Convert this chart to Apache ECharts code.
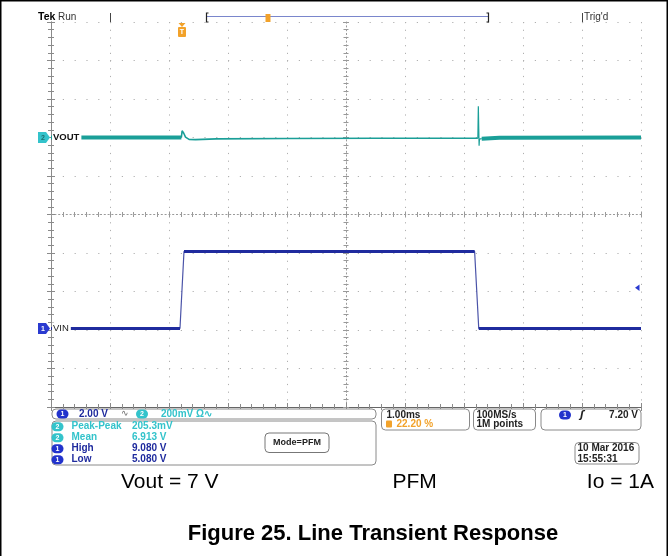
<!DOCTYPE html>
<html><head><meta charset="utf-8">
<script src="https://cdn.jsdelivr.net/npm/echarts@6/dist/echarts.min.js"></script>
<style>html,body{margin:0;padding:0;background:#fff}#c{width:668px;height:556px}</style>
</head><body><div id="c"></div><script>
// ---- data (time in ms, 1 ms/div, 10 div) ----
const vinTime  = [0, 2.186, 2.254, 7.18, 7.25, 10];
const vinVolts = [5.08, 5.08, 9.08, 9.08, 5.08, 5.08];
const voutPreTime = [0, 2.21];
const voutPre     = [6.913, 6.913];
const voutMidTime = [2.21, 2.222, 2.235, 2.25, 2.28, 2.34, 2.45, 2.8, 4.0, 5.5, 7.0, 7.235];
const voutMid     = [6.913, 6.948, 6.956, 6.935, 6.915, 6.903, 6.902, 6.906, 6.908, 6.909, 6.909, 6.909];
const voutSpikeTime = [7.235, 7.243, 7.25, 7.256, 7.262, 7.27, 7.3];
const voutSpike     = [6.909, 7.075, 6.960, 6.870, 6.905, 6.899, 6.907];
const voutPostTime = [7.3, 7.6, 10];
const voutPost     = [6.907, 6.912, 6.913];
const measLabels = ['Peak-Peak', 'Mean', 'High', 'Low'];
const measValues = ['205.3mV', '6.913 V', '9.080 V', '5.080 V'];
const measChan   = ['2', '2', '1', '1'];

const zip = (t, v) => t.map((x, i) => [x, v[i]]);
// flat parts of VIN drawn thick, edges thin
const vinFlat = [];
for (let i = 0; i < vinTime.length; i += 2) {
  vinFlat.push([vinTime[i], vinVolts[i]], [vinTime[i + 1], vinVolts[i + 1]]);
  if (i + 2 < vinTime.length) vinFlat.push([(vinTime[i + 1] + vinTime[i + 2]) / 2, '-']);
}

const BLUE = '#1f2b9e', TEAL = '#1a9f98', CYAN = '#33c3cb', ORANGE = '#f2a22a', GRIDC = '#b0b0b0', EDGE = '#8a8a8a';
const F = '"Liberation Sans", Arial, sans-serif';

const divAxisX = (extra) => Object.assign({
  type: 'value', min: 0, max: 10, interval: 1,
  axisLabel: { show: false },
  axisLine: { show: true, lineStyle: { color: EDGE, width: 1 } },
  axisTick: { show: true, inside: true, length: 4, lineStyle: { color: EDGE } },
  minorTick: { show: true, splitNumber: 5, length: 3, lineStyle: { color: EDGE } },
  splitLine: { show: false }
}, extra);
const divAxisY = (extra) => Object.assign({
  type: 'value', min: 0, max: 10, interval: 1,
  axisLabel: { show: false },
  axisLine: { show: true, lineStyle: { color: EDGE, width: 1 } },
  axisTick: { show: true, inside: true, length: 4, lineStyle: { color: EDGE } },
  minorTick: { show: true, splitNumber: 5, length: 3, lineStyle: { color: EDGE } },
  splitLine: { show: false }
}, extra);

const centerLine = { show: true, lineStyle: { color: '#9a9a9a', width: 1, type: [1.2, 2.6] } };

// ---- graphic helpers ----
const G = [];
const txt = (x, y, text, fill, font, align, extra) => G.push(Object.assign({
  type: 'text', x, y, z: 100,
  style: { text, fill, font, align: align || 'left', verticalAlign: 'middle' }
}, extra || {}));
const rrect = (x, y, w, h, stroke, fill, r) => G.push({
  type: 'rect', z: 99, shape: { x, y, width: w, height: h, r: r == null ? 4 : r },
  style: { stroke, fill: fill || '#fff', lineWidth: 1 }
});
const pill = (cx, cy, color, label) => {
  G.push({ type: 'rect', z: 100, shape: { x: cx - 6, y: cy - 4.5, width: 12, height: 9, r: 4.5 }, style: { fill: color } });
  txt(cx, cy + 0.5, label, '#fff', 'bold 7px ' + F, 'center');
};
const line = (pts, stroke, w) => G.push({ type: 'polyline', z: 100, shape: { points: pts }, style: { stroke, lineWidth: w || 1, fill: null } });
const poly = (pts, fill) => G.push({ type: 'polygon', z: 100, shape: { points: pts }, style: { fill } });

// outer frame
G.push({ type: 'rect', z: 90, shape: { x: 0.75, y: 0.75, width: 666.5, height: 600 }, style: { stroke: '#000', lineWidth: 1.5, fill: null } });

// top bar
txt(38, 17, 'Tek', '#000', 'bold 10.5px ' + F);
txt(58, 17, 'Run', '#333', '10px ' + F);
line([[110.5, 13], [110.5, 22]], '#444', 1);
line([[582.5, 13], [582.5, 22]], '#444', 1);
txt(584, 17, "Trig'd", '#333', '10px ' + F);
line([[206, 16.5], [489, 16.5]], '#7a86cc', 1.2);
line([[208.5, 13], [206.5, 13], [206.5, 22], [208.5, 22]], '#222', 1.2);
line([[486.5, 13], [488.5, 13], [488.5, 22], [486.5, 22]], '#222', 1.2);
G.push({ type: 'rect', z: 101, shape: { x: 265.5, y: 14, width: 5, height: 8 }, style: { fill: ORANGE } });
// trigger position marker
poly([[178.5, 23], [185.5, 23], [182, 27]], ORANGE);
G.push({ type: 'rect', z: 100, shape: { x: 178, y: 27, width: 8, height: 10, r: 1 }, style: { fill: ORANGE } });
txt(182, 32.5, 'T', '#fff', 'bold 7px ' + F, 'center');

// channel tags
poly([[38, 132], [46, 132], [50, 137.5], [46, 143], [38, 143]], CYAN);
txt(43, 138, '2', '#1a6f70', 'bold 7px ' + F, 'center');
txt(52, 137.5, 'VOUT', '#111', 'bold 9.5px ' + F, 'left', { style: { text: 'VOUT', fill: '#111', font: 'bold 9.5px ' + F, align: 'left', verticalAlign: 'middle', backgroundColor: '#fff', padding: [1, 2, 1, 1] } });
poly([[38, 323], [46, 323], [50, 328.5], [46, 334], [38, 334]], '#2a3ad0');
txt(43, 329, '1', '#fff', 'bold 7px ' + F, 'center');
txt(52, 328.5, 'VIN', '#222', '9.5px ' + F, 'left', { style: { text: 'VIN', fill: '#222', font: '9.5px ' + F, align: 'left', verticalAlign: 'middle', backgroundColor: '#fff', padding: [1, 2, 1, 1] } });
// trigger level marker (right)
poly([[635, 287.7], [639.5, 284.5], [639.5, 291]], '#2a3ad0');

// ---- bottom readout panels ----
const MF = 'bold 10px ' + F;
rrect(52, 409, 324, 10, '#8a8a8a');
pill(62.5, 414, '#2233cc', '1');
txt(79, 414, '2.00 V', BLUE, MF);
txt(121, 414, '∿', '#666', '9px ' + F);
pill(142, 414, CYAN, '2');
txt(161, 414, '200mV Ω∿', CYAN, MF);

rrect(52, 421, 324, 44, '#8a8a8a');
measLabels.forEach((lab, i) => {
  const y = 426.7 + i * 11;
  const col = measChan[i] === '2' ? CYAN : BLUE;
  pill(57.5, y, measChan[i] === '2' ? CYAN : '#2233cc', measChan[i]);
  txt(71.5, y, lab, col, MF);
  txt(132, y, measValues[i], col, MF);
});
rrect(265, 433, 64, 19.5, '#777', '#fff', 4);
txt(297, 443, 'Mode=PFM', '#222', 'bold 9px ' + F, 'center');

rrect(381.5, 409, 88, 21, '#8a8a8a');
txt(386.5, 415, '1.00ms', '#222', MF);
G.push({ type: 'rect', z: 100, shape: { x: 386, y: 420.5, width: 6, height: 7, r: 1 }, style: { fill: ORANGE } });
txt(396.5, 424.5, '22.20 %', ORANGE, MF);

rrect(473.5, 409, 62, 21, '#8a8a8a');
txt(476.5, 415, '100MS/s', '#222', MF);
txt(476.5, 424.5, '1M points', '#222', MF);

rrect(541, 409, 100, 21, '#8a8a8a');
pill(565, 415, '#2233cc', '1');
txt(582, 415, 'ʃ', '#222', 'italic bold 10px "DejaVu Sans"', 'center');
txt(638, 415, '7.20 V', '#222', MF, 'right');

rrect(575, 442.5, 64, 21.5, '#8a8a8a');
txt(577.5, 448.5, '10 Mar 2016', '#222', MF);
txt(577.5, 459, '15:55:31', '#222', MF);

// captions
txt(121, 482.5, 'Vout = 7 V', '#000', '21px ' + F);
txt(392.5, 482.5, 'PFM', '#000', '21px ' + F);
txt(654, 482.5, 'Io = 1A', '#000', '21px ' + F, 'right');
txt(373, 533.5, 'Figure 25. Line Transient Response', '#000', 'bold 22px ' + F, 'center');

const chart = echarts.init(document.getElementById('c'), null, { renderer: 'canvas' });
chart.setOption({
  animation: false,
  backgroundColor: '#fff',
  grid: { left: 51, top: 22, width: 590, height: 385, show: false },
  xAxis: [
    divAxisX({ position: 'bottom', splitLine: { show: true, lineStyle: { color: GRIDC, width: 1, type: [1.2, 6.5] } } }),
    divAxisX({ position: 'top', axisLine: { show: true, lineStyle: { color: '#666', width: 1 } } }),
    divAxisX({ position: 'bottom', offset: -192.5, axisLine: centerLine, axisTick: { show: true, inside: true, length: 3, lineStyle: { color: '#999' } }, minorTick: { show: true, splitNumber: 5, length: 2.5, lineStyle: { color: '#999' } } }),
    divAxisX({ position: 'bottom', offset: -192.5, axisLine: { show: false }, axisTick: { show: true, inside: false, length: 3, lineStyle: { color: '#999' } }, minorTick: { show: true, splitNumber: 5, length: 2.5, lineStyle: { color: '#999' } } })
  ],
  yAxis: [
    divAxisY({ position: 'left', splitLine: { show: true, lineStyle: { color: GRIDC, width: 1, type: [1.2, 10.6] } } }),
    divAxisY({ position: 'right' }),
    divAxisY({ position: 'left', offset: -295, axisLine: centerLine, axisTick: { show: true, inside: true, length: 3, lineStyle: { color: '#999' } }, minorTick: { show: true, splitNumber: 5, length: 2.5, lineStyle: { color: '#999' } } }),
    divAxisY({ position: 'left', offset: -295, axisLine: { show: false }, axisTick: { show: true, inside: false, length: 3, lineStyle: { color: '#999' } }, minorTick: { show: true, splitNumber: 5, length: 2.5, lineStyle: { color: '#999' } } }),
    { type: 'value', show: false, min: 1.0, max: 21.0 },          // VIN, 2.00 V/div
    { type: 'value', show: false, min: 5.513, max: 7.513 }        // VOUT, 200 mV/div
  ],
  series: [
    { name: 'VIN edges', type: 'line', xAxisIndex: 0, yAxisIndex: 4, data: zip(vinTime, vinVolts), symbol: 'none', lineStyle: { color: '#4a53a8', width: 1.2 }, z: 5 },
    { name: 'VIN', type: 'line', xAxisIndex: 0, yAxisIndex: 4, data: vinFlat, symbol: 'none', connectNulls: false, lineStyle: { color: BLUE, width: 3 }, z: 6 },
    { name: 'VOUT pre', type: 'line', xAxisIndex: 0, yAxisIndex: 5, data: zip(voutPreTime, voutPre), symbol: 'none', lineStyle: { color: TEAL, width: 4 }, z: 6 },
    { name: 'VOUT', type: 'line', xAxisIndex: 0, yAxisIndex: 5, data: zip(voutMidTime, voutMid), symbol: 'none', lineStyle: { color: TEAL, width: 1.6 }, z: 6 },
    { name: 'VOUT spike', type: 'line', xAxisIndex: 0, yAxisIndex: 5, data: zip(voutSpikeTime, voutSpike), symbol: 'none', lineStyle: { color: TEAL, width: 1.2 }, z: 6 },
    { name: 'VOUT post', type: 'line', xAxisIndex: 0, yAxisIndex: 5, data: zip(voutPostTime, voutPost), symbol: 'none', lineStyle: { color: TEAL, width: 4 }, z: 6 }
  ],
  graphic: G
});
</script></body></html>
